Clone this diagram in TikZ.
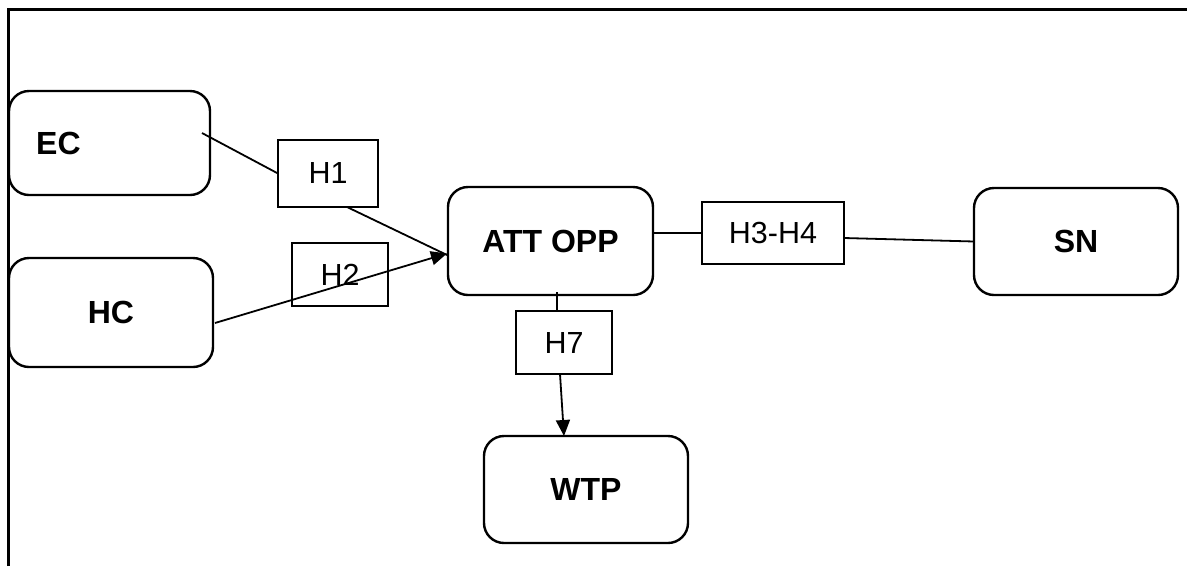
\documentclass[tikz,border=0pt]{standalone}
\usepackage{fontspec}
\setmainfont{Liberation Sans}
\usetikzlibrary{arrows.meta,calc}
\begin{document}
\begin{tikzpicture}[x=1pt,y=-1pt,
  rbox/.style={draw, line width=2.4pt, rounded corners=20pt, inner sep=0pt, outer sep=0pt,
    font=\fontsize{32}{36}\selectfont\bfseries},
  hbox/.style={draw, line width=2.2pt, inner sep=0pt, outer sep=0pt,
    font=\fontsize{30.5}{36}\selectfont},
  conn/.style={line width=1.8pt},
  arr/.style={line width=1.8pt, -{Triangle[length=16pt,width=14pt]}},
  frameline/.style={line width=3pt}
]
\useasboundingbox (0,0) rectangle (1187,566);
% frame
\coordinate (fbl) at (8,566);
\coordinate (ftl) at (8,9);
\coordinate (ftr) at (1187,9);
\draw[frameline] (fbl) -- (ftl) -- (ftr);
% rounded boxes
\node[rbox, minimum width=201pt, minimum height=104pt] (EC) at (109.5,143) {};
\node[font=\fontsize{32}{36}\selectfont\bfseries, anchor=west, inner sep=0pt] (ECt) at (36,143) {EC};
\node[rbox, minimum width=204pt, minimum height=109pt] (HC) at (111,312.5) {HC};
\node[rbox, minimum width=205pt, minimum height=108pt] (ATT) at (550.5,241) {ATT OPP};
\node[rbox, minimum width=204pt, minimum height=107pt] (SN) at (1076,241.5) {SN};
\node[rbox, minimum width=204pt, minimum height=107pt] (WTP) at (586,489.5) {WTP};
% hypothesis boxes
\node[hbox, minimum width=100pt, minimum height=67pt] (H1) at (328,173.5) {H1};
\node[hbox, minimum width=96pt, minimum height=63pt] (H2) at (340,274.5) {H2};
\node[hbox, minimum width=142pt, minimum height=62pt] (H34) at (773,233) {H3-H4};
\node[hbox, minimum width=96pt, minimum height=63pt] (H7) at (564,342.5) {H7};
% connectors
\coordinate (tip) at ($(ATT.west)+(-1,12.5)$);
\draw[conn] ([xshift=-8pt,yshift=10pt]EC.east) -- (H1.west);
\draw[conn] ([xshift=19pt]H1.south) -- ($(ATT.west)+(-1,14)$);
\draw[arr] ([xshift=2pt,yshift=-10.5pt]HC.east) -- (tip);
\draw[conn] ([yshift=8pt]ATT.east) -- (H34.west);
\draw[conn] ([yshift=-5pt]H34.east) -- (SN.west);
\draw[conn] ([xshift=6.5pt,yshift=3pt]ATT.south) -- ([xshift=-7pt]H7.north);
\draw[arr] ([xshift=-4pt]H7.south) -- ([xshift=-22pt]WTP.north);
\end{tikzpicture}
\end{document}
